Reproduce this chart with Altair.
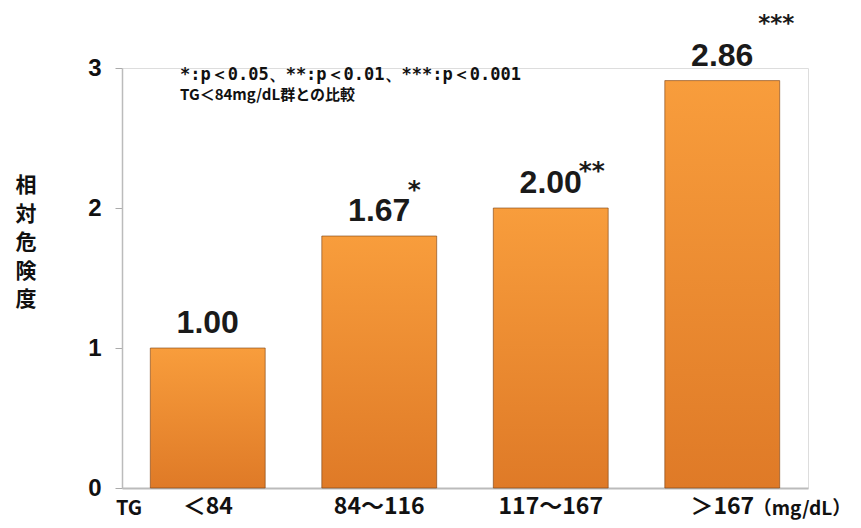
import altair as alt
import pandas as pd

categories = ["＜84", "84～116", "117～167", "＞167"]
bar_heights = [1.0, 1.8, 2.0, 2.91]
value_labels = ["1.00", "1.67", "2.00", "2.86"]
stars = ["", "*", "**", "***"]
y_ticks = [0, 1, 2, 3]

df = pd.DataFrame({"cat": categories, "h": bar_heights, "lab": value_labels, "star": stars})

JP = "Noto Sans CJK JP"
NUM = "Liberation Sans"

x_enc = alt.X("cat:N", sort=categories,
              scale=alt.Scale(paddingInner=0.33, paddingOuter=0.165),
              axis=alt.Axis(title=None, labelAngle=0, labelFont=JP, labelFontWeight="bold",
                            labelFontSize=23, labelColor="#111", labelPadding=7,
                            ticks=False, domainColor="#bbbbbb", domainWidth=2))
y_enc = alt.Y("h:Q", scale=alt.Scale(domain=[0, 3], nice=False),
              axis=alt.Axis(title=None, values=y_ticks, format="d", grid=False, labelFont=NUM,
                            labelFontWeight="bold", labelFontSize=24, labelColor="#111",
                            labelPadding=14, tickSize=7, tickColor="#aaaaaa",
                            domainColor="#bbbbbb", domainWidth=1.5))

grad = alt.Gradient(gradient="linear", x1=0, x2=0, y1=0, y2=1,
                    stops=[alt.GradientStop(offset=0, color="#f89d3c"),
                           alt.GradientStop(offset=1, color="#df7a27")])

bars = alt.Chart(df).mark_bar(fill=grad, stroke="#7a3f10", strokeWidth=1, strokeOpacity=0.6).encode(
    x=x_enc, y=y_enc)

labels = alt.Chart(df).mark_text(font=NUM, fontWeight="bold", fontSize=32, color="#1a1a1a",
                                 baseline="bottom", dy=-8).encode(
    x=alt.X("cat:N", sort=categories), y="h:Q", text="lab:N")

def star_layer(i, dx, dy, size):
    return alt.Chart(df.iloc[[i]]).mark_text(font="DejaVu Sans", fontWeight="bold", fontSize=size,
                                              color="#1a1a1a", baseline="middle", dx=dx, dy=dy).encode(
        x=alt.X("cat:N", sort=categories), y="h:Q", text="star:N")

s1 = star_layer(1, 35, -46, 25)
s2 = star_layer(2, 41, -37, 25)
s3 = star_layer(3, 54, -57, 23)

ytitle = alt.Chart(pd.DataFrame({"t": ["相対危険度"]})).mark_text(
    text=["相", "対", "危", "険", "度"], font=JP, fontWeight="bold", fontSize=21,
    lineHeight=28.5, color="#111", baseline="middle", align="center").encode(
    x=alt.value(-96), y=alt.value(118))

note1 = alt.Chart(pd.DataFrame({"t": ["n"]})).mark_text(
    text="*:p＜0.05、**:p＜0.01、***:p＜0.001",
    font="DejaVu Sans Mono", fontWeight="bold", fontSize=17, color="#111",
    align="left", baseline="middle").encode(x=alt.value(58), y=alt.value(7))

note2 = alt.Chart(pd.DataFrame({"t": ["n"]})).mark_text(
    text="TG＜84mg/dL群との比較",
    font=JP, fontWeight="bold", fontSize=15, color="#111",
    align="left", baseline="middle").encode(x=alt.value(58), y=alt.value(27))

tg = alt.Chart(pd.DataFrame({"t": ["TG"]})).mark_text(
    text="TG", font=JP, fontWeight="bold", fontSize=20, color="#111", baseline="middle").encode(
    x=alt.value(7), y=alt.value(441))

unit = alt.Chart(pd.DataFrame({"t": ["u"]})).mark_text(
    text="（mg/dL）", font=JP, fontWeight="bold", fontSize=19, color="#111", baseline="middle").encode(
    x=alt.value(680), y=alt.value(441))

chart = alt.layer(bars, labels, s1, s2, s3, ytitle, note1, note2, tg, unit).properties(
    width=686, height=420,
    autosize=alt.AutoSizeParams(type="none"),
    padding={"left": 114, "top": 60, "right": 45, "bottom": 32},
).configure_view(stroke=None).configure(background="white")

chart.save("out.html", embed_options={"renderer": "svg", "actions": False})
